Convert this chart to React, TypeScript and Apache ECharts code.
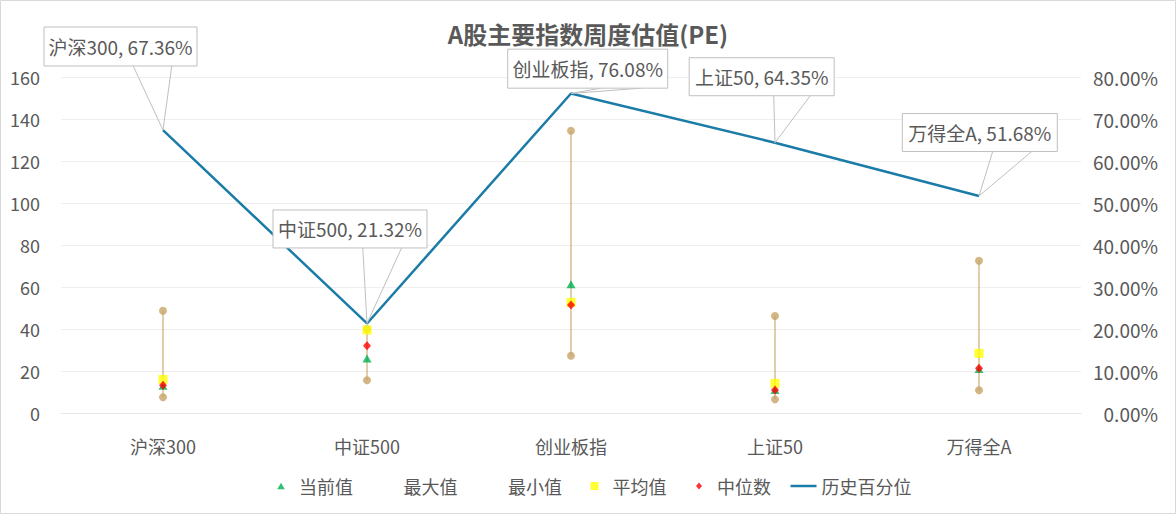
import React, { useEffect, useRef } from "react";
import * as echarts from "echarts";

// ---- data ----
const categories = ["沪深300", "中证500", "创业板指", "上证50", "万得全A"];
const currentValues = [13.0, 26.0, 61.3, 11.0, 21.0];
const maxValues = [48.7, 40.0, 134.4, 46.2, 72.5];
const minValues = [7.5, 15.6, 27.3, 6.5, 10.8];
const meanValues = [16.0, 39.5, 52.7, 14.1, 28.4];
const medianValues = [13.2, 32.0, 51.4, 11.0, 21.3];
const percentiles = [67.36, 21.32, 76.08, 64.35, 51.68];
const seriesNames = ["当前值", "最大值", "最小值", "平均值", "中位数", "历史百分位"];
const titleText = "A股主要指数周度估值(PE)";

// ---- layout of the callout boxes (offset of box centre from point, box size) ----
const calloutLayout = [
  { dx: -42.5, dy: -83.6, w: 153, h: 39 },
  { dx: -17, dy: -94.5, w: 154, h: 38 },
  { dx: 16.7, dy: -24.8, w: 160, h: 39 },
  { dx: -13.3, dy: -66, w: 145, h: 38 },
  { dx: 0.8, dy: -63.4, w: 155, h: 38 },
];

const FONT = '"Noto Sans CJK SC", "Noto Sans", sans-serif';
const TEXT = "#595959";
const TAN = "#C8A467";
const LINE_BLUE = "#1B7CA7";
const GRID = "#EFEFEF";

// legend icons drawn inside a 26x9 box (degenerate corner segments fix the bounds)
const PAD = "M0,0 L0,0 M26,9 L26,9 ";
const ICON_TRI = "path://" + PAD + "M13,1.2 L16.8,7.8 L9.2,7.8 Z";
const ICON_RECT = "path://" + PAD + "M9,0.5 L17,0.5 L17,8.5 L9,8.5 Z";
const ICON_DIAMOND = "path://" + PAD + "M13,1 L16,4.5 L13,8 L10,4.5 Z";
const ICON_LINE = "path://" + PAD + "M0,3.25 L26,3.25 L26,5.75 L0,5.75 Z";

export default function App() {
  const ref = useRef<HTMLDivElement>(null);
  useEffect(() => {
    if (!ref.current) return;
    const chart = echarts.init(ref.current, null, { renderer: "svg" });
    const labelTexts = categories.map((c, i) => `${c}, ${percentiles[i].toFixed(2)}%`);
    const option: any = {
      animation: false,
      backgroundColor: "#ffffff",
      textStyle: { fontFamily: FONT },
      title: {
        text: titleText,
        left: "center",
        top: 16,
        textStyle: { fontSize: 24, fontWeight: "bold", color: TEXT, fontFamily: FONT },
      },
      graphic: [
        {
          type: "rect",
          shape: { x: 0.5, y: 0.5, width: 1175, height: 513 },
          style: { fill: "none", stroke: "#D9D9D9", lineWidth: 1 },
          silent: true,
        },
      ],
      legend: {
        left: 263,
        top: 472,
        itemWidth: 26,
        itemHeight: 9,
        itemGap: 19.5,
        itemStyle: { borderWidth: 0 },
        textStyle: { fontSize: 18, color: TEXT, fontFamily: FONT },
        data: [
          { name: seriesNames[0], icon: ICON_TRI },
          { name: seriesNames[1], icon: "none" },
          { name: seriesNames[2], icon: "none" },
          { name: seriesNames[3], icon: ICON_RECT },
          { name: seriesNames[4], icon: ICON_DIAMOND },
          { name: seriesNames[5], icon: ICON_LINE },
        ],
      },
      grid: { left: 61, right: 95, top: 77, bottom: 101, containLabel: false },
      xAxis: {
        type: "category",
        data: categories,
        boundaryGap: true,
        axisLine: { show: true, lineStyle: { color: "#E6E6E6" } },
        axisTick: { show: false },
        axisLabel: { margin: 24, fontSize: 18, color: TEXT, fontFamily: FONT },
      },
      yAxis: [
        {
          type: "value",
          min: 0,
          max: 160,
          interval: 20,
          axisLine: { show: false },
          axisTick: { show: false },
          splitLine: { lineStyle: { color: GRID } },
          axisLabel: { margin: 21, fontSize: 18, color: TEXT, fontFamily: FONT },
        },
        {
          type: "value",
          min: 0,
          max: 80,
          interval: 10,
          position: "right",
          axisLine: { show: false },
          axisTick: { show: false },
          splitLine: { show: false },
          axisLabel: {
            margin: 77,
            align: "right",
            fontSize: 19,
            color: TEXT,
            fontFamily: FONT,
            formatter: (v: number) => v.toFixed(2) + "%",
          },
        },
      ],
      series: [
        {
          name: "hilow",
          type: "custom",
          z: 1,
          silent: true,
          encode: { x: 0, y: [1, 2] },
          data: categories.map((_, i) => [i, maxValues[i], minValues[i]]),
          renderItem: (params: any, api: any) => {
            const a = api.coord([api.value(0), api.value(1)]);
            const b = api.coord([api.value(0), api.value(2)]);
            return {
              type: "line",
              shape: { x1: a[0], y1: a[1], x2: b[0], y2: b[1] },
              style: { stroke: TAN, lineWidth: 1.1 },
            };
          },
        },
        {
          name: seriesNames[0],
          type: "scatter",
          z: 3,
          symbol: "triangle",
          symbolSize: [9, 8],
          itemStyle: { color: "#00B050" },
          data: currentValues,
        },
        {
          name: seriesNames[1],
          type: "scatter",
          z: 3,
          symbol: "circle",
          symbolSize: 8,
          itemStyle: { color: TAN },
          data: maxValues,
        },
        {
          name: seriesNames[2],
          type: "scatter",
          z: 3,
          symbol: "circle",
          symbolSize: 8,
          itemStyle: { color: TAN },
          data: minValues,
        },
        {
          name: seriesNames[3],
          type: "scatter",
          z: 3,
          symbol: "rect",
          symbolSize: [9, 9],
          itemStyle: { color: "#FFFF00" },
          data: meanValues,
        },
        {
          name: seriesNames[4],
          type: "scatter",
          z: 3,
          symbol: "diamond",
          symbolSize: [8, 9],
          itemStyle: { color: "#FF0000" },
          data: medianValues,
        },
        {
          name: seriesNames[5],
          type: "line",
          z: 4,
          yAxisIndex: 1,
          symbol: "none",
          showSymbol: false,
          lineStyle: { color: LINE_BLUE, width: 2.5 },
          itemStyle: { color: LINE_BLUE },
          data: percentiles,
        },
        {
          name: "callouts",
          type: "custom",
          z: 5,
          yAxisIndex: 1,
          clip: false,
          silent: true,
          data: categories.map((_, i) => [i, percentiles[i]]),
          renderItem: (params: any, api: any) => {
            const idx = params.dataIndex;
            const p = api.coord([api.value(0), api.value(1)]);
            const L = calloutLayout[idx];
            const cx = p[0] + L.dx;
            const cy = p[1] + L.dy;
            const x0 = cx - L.w / 2;
            const y0 = cy - L.h / 2;
            const y1 = cy + L.h / 2;
            const bl = x0 + L.w * 0.583;
            const br = x0 + L.w * 0.835;
            return {
              type: "group",
              children: [
                {
                  type: "polyline",
                  shape: { points: [[bl, y1], [p[0], p[1]], [br, y1]] },
                  style: { stroke: "#BFBFBF", fill: null, lineWidth: 1 },
                },
                {
                  type: "rect",
                  shape: { x: x0, y: y0, width: L.w, height: L.h },
                  style: { fill: "#ffffff", stroke: "#BFBFBF", lineWidth: 1 },
                },
                {
                  type: "text",
                  x: cx,
                  y: cy,
                  style: {
                    text: labelTexts[idx],
                    fill: TEXT,
                    fontSize: 19,
                    fontFamily: FONT,
                    align: "center",
                    verticalAlign: "middle",
                  },
                },
              ],
            };
          },
        },
      ],
    };
    chart.setOption(option);
    return () => chart.dispose();
  }, []);
  return (
    <div
      ref={ref}
      style={{ position: "absolute", left: 0, top: 0, width: 1176, height: 514, background: "#fff" }}
    />
  );
}
